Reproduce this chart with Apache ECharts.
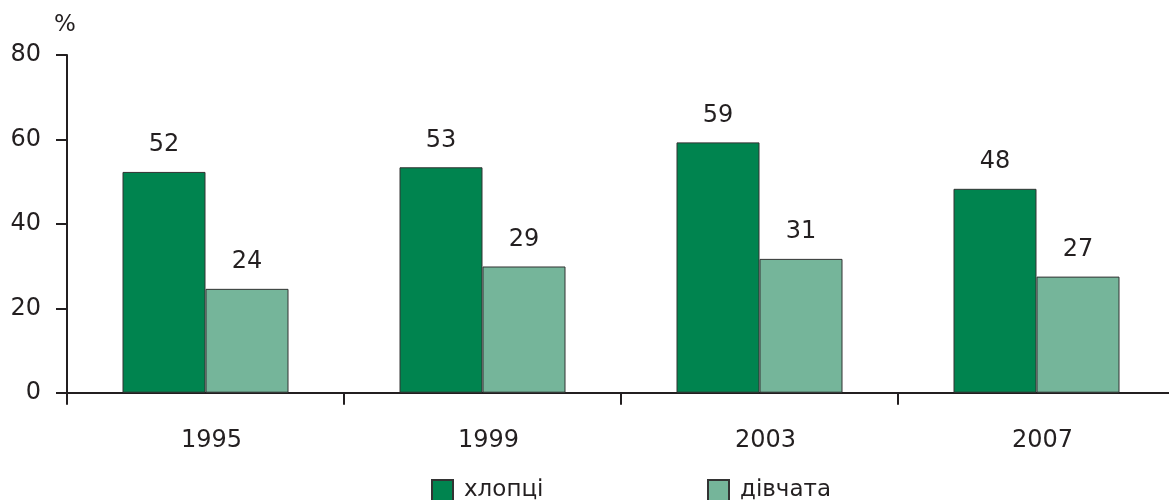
<!DOCTYPE html>
<html>
<head>
<meta charset="utf-8">
<script src="https://cdn.jsdelivr.net/npm/echarts@6/dist/echarts.min.js"></script>
<style>
html,body{margin:0;padding:0;background:#fff;}
#chart{width:1169px;height:500px;}
</style>
</head>
<body>
<div id="chart"></div>
<script>
const categories = ['1995', '1999', '2003', '2007'];
const seriesNames = ['хлопці', 'дівчата'];
const boysValues = [52.3, 53.4, 59.3, 48.3];
const girlsValues = [24.6, 29.9, 31.7, 27.5];
const boysLabels = ['52', '53', '59', '48'];
const girlsLabels = ['24', '29', '31', '27'];
const yTicks = [0, 20, 40, 60, 80];

const FONT = 'DejaVu Sans';
const INK = '#231f20';
const chart = echarts.init(document.getElementById('chart'));

function labelCfg(labels) {
  return {
    show: true,
    position: 'top',
    distance: 15,
    fontFamily: FONT,
    fontSize: 24,
    color: INK,
    formatter: p => labels[p.dataIndex]
  };
}

const legendText = { fontFamily: FONT, fontSize: 23, color: INK, padding: [0, 0, 0, 6] };

chart.setOption({
  animation: false,
  grid: { left: 67, top: 55, width: 1108, height: 337.7, containLabel: false, outerBoundsMode: 'none' },
  legend: [
    { data: [seriesNames[0]], left: 431, top: 479, padding: 0, itemWidth: 21, itemHeight: 21, icon: 'rect', textStyle: legendText },
    { data: [seriesNames[1]], left: 707, top: 479, padding: 0, itemWidth: 21, itemHeight: 21, icon: 'rect', textStyle: legendText }
  ],
  xAxis: {
    type: 'category',
    data: categories,
    axisLine: { show: true, lineStyle: { color: INK, width: 2 } },
    axisTick: { show: true, length: 12, alignWithLabel: false, lineStyle: { color: INK, width: 2 } },
    axisLabel: { fontFamily: FONT, fontSize: 24, color: INK, margin: 36, padding: [0, 0, 0, 12] }
  },
  yAxis: {
    type: 'value',
    min: yTicks[0], max: yTicks[yTicks.length - 1], interval: 20,
    name: '%',
    nameLocation: 'end',
    nameGap: 18,
    nameTextStyle: { fontFamily: FONT, fontSize: 23, color: INK, align: 'center', padding: [0, 0, 0, -4] },
    axisLine: { show: true, lineStyle: { color: INK, width: 2 } },
    axisTick: { show: true, length: 11, lineStyle: { color: INK, width: 2 } },
    axisLabel: { fontFamily: FONT, fontSize: 24, color: INK, margin: 26 },
    splitLine: { show: false }
  },
  series: [
    {
      name: seriesNames[0], type: 'bar', data: boysValues,
      barWidth: 83, barGap: '0%',
      itemStyle: { color: '#00844f', borderColor: '#333333', borderWidth: 1 },
      label: labelCfg(boysLabels)
    },
    {
      name: seriesNames[1], type: 'bar', data: girlsValues,
      barWidth: 83, barGap: '0%',
      itemStyle: { color: '#75b59a', borderColor: '#333333', borderWidth: 1 },
      label: labelCfg(girlsLabels)
    }
  ]
});
</script>
</body>
</html>
